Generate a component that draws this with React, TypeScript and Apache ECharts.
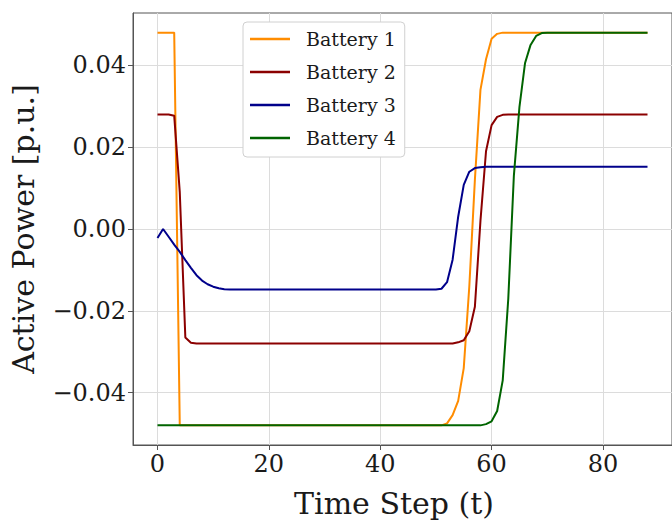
import React, { useEffect, useRef } from "react";
import * as echarts from "echarts";

const steps = Array.from({ length: 89 }, (_, i) => i);

const seriesNames = ["Battery 1", "Battery 2", "Battery 3", "Battery 4"];
const seriesColors = ["#ff8c00", "#8b0000", "#00008b", "#006400"];

const battery1 = [
  0.048, 0.048, 0.048, 0.048, -0.048, -0.048, -0.048, -0.048, -0.048, -0.048,
  -0.048, -0.048, -0.048, -0.048, -0.048, -0.048, -0.048, -0.048, -0.048, -0.048,
  -0.048, -0.048, -0.048, -0.048, -0.048, -0.048, -0.048, -0.048, -0.048, -0.048,
  -0.048, -0.048, -0.048, -0.048, -0.048, -0.048, -0.048, -0.048, -0.048, -0.048,
  -0.048, -0.048, -0.048, -0.048, -0.048, -0.048, -0.048, -0.048, -0.048, -0.048,
  -0.048, -0.048, -0.0475, -0.0455, -0.042, -0.034, -0.014, 0.012, 0.034, 0.0415,
  0.0465, 0.0477, 0.048, 0.048, 0.048, 0.048, 0.048, 0.048, 0.048, 0.048,
  0.048, 0.048, 0.048, 0.048, 0.048, 0.048, 0.048, 0.048, 0.048, 0.048,
  0.048, 0.048, 0.048, 0.048, 0.048, 0.048, 0.048, 0.048, 0.048,
];

const battery2 = [
  0.028, 0.028, 0.028, 0.0277, 0.009, -0.0265, -0.0278, -0.028, -0.028, -0.028,
  -0.028, -0.028, -0.028, -0.028, -0.028, -0.028, -0.028, -0.028, -0.028, -0.028,
  -0.028, -0.028, -0.028, -0.028, -0.028, -0.028, -0.028, -0.028, -0.028, -0.028,
  -0.028, -0.028, -0.028, -0.028, -0.028, -0.028, -0.028, -0.028, -0.028, -0.028,
  -0.028, -0.028, -0.028, -0.028, -0.028, -0.028, -0.028, -0.028, -0.028, -0.028,
  -0.028, -0.028, -0.028, -0.028, -0.0277, -0.0272, -0.025, -0.019, 0.002, 0.019,
  0.0254, 0.0274, 0.0279, 0.028, 0.028, 0.028, 0.028, 0.028, 0.028, 0.028,
  0.028, 0.028, 0.028, 0.028, 0.028, 0.028, 0.028, 0.028, 0.028, 0.028,
  0.028, 0.028, 0.028, 0.028, 0.028, 0.028, 0.028, 0.028, 0.028,
];

const battery3 = [
  -0.0022, 0.0, -0.0019, -0.0038, -0.0056, -0.0076, -0.0095, -0.0113, -0.0126, -0.0135,
  -0.0141, -0.0145, -0.0147, -0.0148, -0.0148, -0.0148, -0.0148, -0.0148, -0.0148, -0.0148,
  -0.0148, -0.0148, -0.0148, -0.0148, -0.0148, -0.0148, -0.0148, -0.0148, -0.0148, -0.0148,
  -0.0148, -0.0148, -0.0148, -0.0148, -0.0148, -0.0148, -0.0148, -0.0148, -0.0148, -0.0148,
  -0.0148, -0.0148, -0.0148, -0.0148, -0.0148, -0.0148, -0.0148, -0.0148, -0.0148, -0.0148,
  -0.0148, -0.0146, -0.013, -0.0075, 0.003, 0.0108, 0.014, 0.0149, 0.0151, 0.0152,
  0.0152, 0.0152, 0.0152, 0.0152, 0.0152, 0.0152, 0.0152, 0.0152, 0.0152, 0.0152,
  0.0152, 0.0152, 0.0152, 0.0152, 0.0152, 0.0152, 0.0152, 0.0152, 0.0152, 0.0152,
  0.0152, 0.0152, 0.0152, 0.0152, 0.0152, 0.0152, 0.0152, 0.0152, 0.0152,
];

const battery4 = [
  -0.048, -0.048, -0.048, -0.048, -0.048, -0.048, -0.048, -0.048, -0.048, -0.048,
  -0.048, -0.048, -0.048, -0.048, -0.048, -0.048, -0.048, -0.048, -0.048, -0.048,
  -0.048, -0.048, -0.048, -0.048, -0.048, -0.048, -0.048, -0.048, -0.048, -0.048,
  -0.048, -0.048, -0.048, -0.048, -0.048, -0.048, -0.048, -0.048, -0.048, -0.048,
  -0.048, -0.048, -0.048, -0.048, -0.048, -0.048, -0.048, -0.048, -0.048, -0.048,
  -0.048, -0.048, -0.048, -0.048, -0.048, -0.048, -0.048, -0.048, -0.048, -0.0477,
  -0.047, -0.0445, -0.037, -0.017, 0.013, 0.0298, 0.0405, 0.045, 0.0472, 0.0479,
  0.048, 0.048, 0.048, 0.048, 0.048, 0.048, 0.048, 0.048, 0.048, 0.048,
  0.048, 0.048, 0.048, 0.048, 0.048, 0.048, 0.048, 0.048, 0.048,
];

const xTicks = [0, 20, 40, 60, 80];
const yTicks = [-0.04, -0.02, 0.0, 0.02, 0.04];

const allSeries = [battery1, battery2, battery3, battery4];

const FONT = "DejaVu Serif";
const TEXT = "#1a1a1a";
const SPINE = "#555555";

export default function App() {
  const ref = useRef<HTMLDivElement>(null);

  useEffect(() => {
    if (!ref.current) return;
    const chart = echarts.init(ref.current, null, { renderer: "svg" });
    const option = {
      animation: false,
      backgroundColor: "#ffffff",
      grid: {
        left: 133,
        top: 13,
        right: -8,
        bottom: 74,
        show: true,
        borderColor: SPINE,
        borderWidth: 1,
        backgroundColor: "transparent",
      },
      legend: {
        show: true,
        orient: "vertical",
        left: 243,
        top: 22,
        padding: [6, 9, 8, 7],
        icon: "rect",
        itemWidth: 40,
        itemHeight: 2.5,
        itemGap: 11,
        backgroundColor: "#ffffff",
        borderColor: "#d0d0d0",
        borderWidth: 1,
        borderRadius: 4,
        textStyle: {
          fontFamily: FONT,
          fontSize: 19,
          color: TEXT,
          lineHeight: 22,
          padding: [0, 0, 0, 11],
        },
        data: seriesNames,
      },
      xAxis: {
        type: "value",
        min: -4.4,
        max: 92.4,
        name: "Time Step (t)",
        nameLocation: "middle",
        nameGap: 43,
        nameTextStyle: {
          fontFamily: FONT,
          fontSize: 30,
          color: TEXT,
          padding: [0, 17, 0, 0],
        },
        axisLine: { show: true, onZero: false, lineStyle: { color: SPINE, width: 1 } },
        axisTick: {
          show: true,
          length: 5,
          lineStyle: { color: SPINE },
          customValues: xTicks,
        },
        axisLabel: {
          fontFamily: FONT,
          fontSize: 24,
          color: TEXT,
          margin: 7,
          customValues: xTicks,
          formatter: (v: number) => String(v),
        },
        splitLine: { show: true, lineStyle: { color: "#dcdcdc", width: 1 } },
      },
      yAxis: {
        type: "value",
        min: -0.0528,
        max: 0.0528,
        name: "Active Power [p.u.]",
        nameLocation: "middle",
        nameGap: 95,
        nameTextStyle: { fontFamily: FONT, fontSize: 30, color: TEXT },
        axisLine: { show: true, onZero: false, lineStyle: { color: SPINE, width: 1 } },
        axisTick: {
          show: true,
          length: 5,
          lineStyle: { color: SPINE },
          customValues: yTicks,
        },
        axisLabel: {
          fontFamily: FONT,
          fontSize: 24,
          color: TEXT,
          margin: 7,
          customValues: yTicks,
          formatter: (v: number) => v.toFixed(2).replace("-", "\u2212"),
        },
        splitLine: { show: true, lineStyle: { color: "#dcdcdc", width: 1 } },
      },
      series: allSeries.map((vals, k) => ({
        name: seriesNames[k],
        type: "line",
        symbol: "none",
        showSymbol: false,
        color: seriesColors[k],
        itemStyle: { color: seriesColors[k] },
        lineStyle: { color: seriesColors[k], width: 2 },
        data: steps.map((t, i) => [t, vals[i]]),
        z: 2 + k,
      })),
    };
    chart.setOption(option as any);
    return () => chart.dispose();
  }, []);

  return (
    <div
      style={{
        position: "fixed",
        left: 0,
        top: 0,
        width: 672,
        height: 523,
        overflow: "hidden",
        background: "#fff",
      }}
    >
      <div ref={ref} style={{ width: 672, height: 523 }} />
    </div>
  );
}
